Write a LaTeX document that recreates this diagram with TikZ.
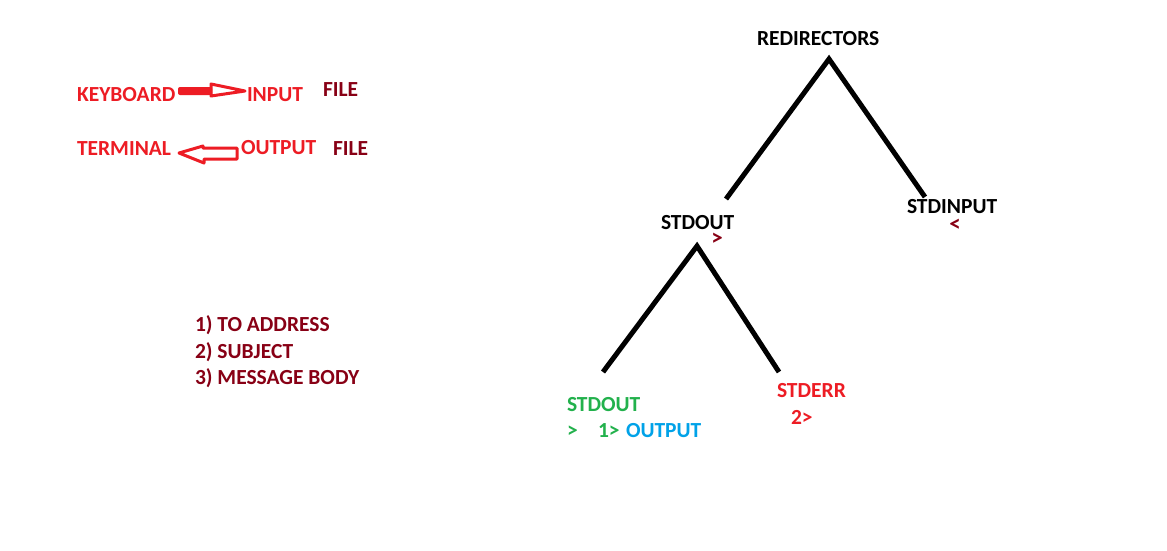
\documentclass[tikz,border=0pt]{standalone}
\usepackage{fontspec}
\setmainfont{Carlito}
\usetikzlibrary{calc}
\definecolor{pred}{HTML}{ED1C24}
\definecolor{pdark}{HTML}{880015}
\definecolor{pgreen}{HTML}{22B14C}
\definecolor{pblue}{HTML}{00A2E8}
\tikzset{
  lbl/.style={inner sep=0pt, outer sep=0pt, anchor=base west, font=\fontsize{21.5}{21.5}\selectfont\bfseries},
  sym/.style={inner sep=0pt, outer sep=0pt, anchor=center, font=\fontsize{23}{23}\selectfont\bfseries},
  branch/.style={line width=5pt, line join=miter, line cap=butt, black},
  hollow/.style={draw=pred, line width=3pt, line join=round}
}
\begin{document}
\begin{tikzpicture}[x=1pt,y=-1pt]
\useasboundingbox[fill=white] (0,0) rectangle (1167,550);

% left top texts
\node[lbl, text=pred] (kbd) at (77,101) {KEYBOARD};
\node[lbl, text=pred] (inp) at (247,101) {INPUT};
\node[lbl, text=pdark] (file1) at (323,96) {FILE};
\node[lbl, text=pred] (term) at (77,155) {TERMINAL};
\node[lbl, text=pred] (outp) at (241,154) {OUTPUT};
\node[lbl, text=pdark] (file2) at (333,155) {FILE};

% arrow keyboard -> input
\coordinate (a1s) at (178,91);
\coordinate (a1t) at (245,91);
\fill[pred, rounded corners=2pt] ($(a1s)+(0,-4)$) rectangle ($(a1s)+(34,4)$);
\draw[hollow] ($(a1t)+(-34,-7)$) -- (a1t) -- ($(a1t)+(-34,5)$) -- cycle;

% arrow output -> terminal
\coordinate (a2s) at (237,153);
\coordinate (a2t) at (179,153);
\draw[hollow] (a2t) -- ($(a2t)+(24,-7)$) -- ($(a2t)+(24,-5)$) -- ($(a2s)+(0,-5)$) -- ($(a2s)+(0,6)$) -- ($(a2t)+(25,6)$) -- ($(a2t)+(25,10)$) -- cycle;

% list
\node[lbl, text=pdark] (l1) at (195,331) {1) TO ADDRESS};
\node[lbl, text=pdark] (l2) at (195,358) {2) SUBJECT};
\node[lbl, text=pdark] (l3) at (195,384) {3) MESSAGE BODY};

% tree
\node[lbl] (redir) at (757,45) {REDIRECTORS};
\node[lbl] (stdout) at (661,229) {STDOUT};
\node[sym, text=pdark] (gt) at (717,239) {>};
\node[lbl] (stdin) at (907,213) {STDINPUT};
\node[sym, text=pdark] (lt) at (955,225) {<};

\coordinate (ap1) at (829,59);
\coordinate (e1l) at (726,199);
\coordinate (e1r) at (925,197);
\draw[branch] (e1l) -- (ap1) -- (e1r);

\coordinate (ap2) at (697,246);
\coordinate (e2l) at (603,372);
\coordinate (e2r) at (779,372);
\draw[branch] (e2l) -- (ap2) -- (e2r);

\node[lbl, text=pgreen] (gout) at (567,411) {STDOUT};
\node[lbl, text=pgreen] (ggt) at (567,437) {>};
\node[lbl, text=pgreen] (one) at (598,437) {1>};
\node[lbl, text=pblue] (bout) at (626,437) {OUTPUT};
\node[lbl, text=pred] (stderr) at (777,397) {STDERR};
\node[lbl, text=pred] (two) at (791,424) {2>};
\end{tikzpicture}
\end{document}
